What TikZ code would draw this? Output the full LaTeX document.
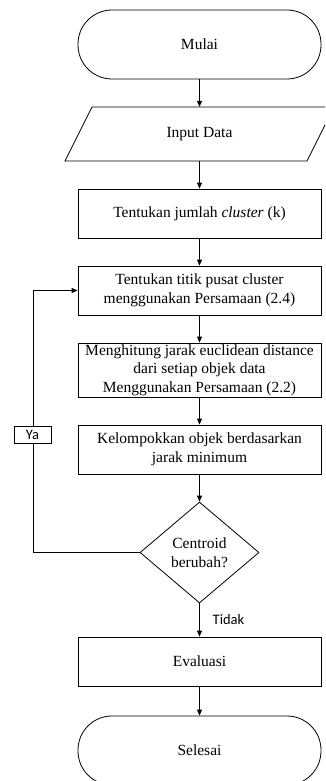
\documentclass[tikz,border=0pt]{standalone}
\usepackage{fontspec}
\setmainfont{Liberation Serif}
\newfontfamily\lblfont{Carlito}
\usetikzlibrary{shapes.geometric,arrows.meta}
\begin{document}
\begin{tikzpicture}[x=1pt,y=-1pt,
  base/.style={draw=black,line width=0.8pt,align=center,inner sep=0pt,
    font=\fontsize{15.5}{18.6}\selectfont},
  procbox/.style={base,rectangle,minimum width=243pt,minimum height=49pt},
  termbox/.style={base,rectangle,rounded corners=34pt,minimum width=243pt,minimum height=69pt},
  decbox/.style={base,diamond,aspect=1.18,minimum width=119pt,minimum height=101pt},
  flow/.style={line width=0.8pt,-{Triangle[length=6pt,width=5pt]}},
  lbl/.style={font=\lblfont\fontsize{14.5}{16}\selectfont,inner sep=0pt}
]
\useasboundingbox (0,0) rectangle (325,781);
\clip (0,0) rectangle (325,781);

\node[termbox] (mulai) at (199.5,44.5) {Mulai};
\node[align=center,inner sep=0pt,minimum width=242pt,minimum height=54pt,
  font=\fontsize{15.5}{18.6}\selectfont] (inp) at (199.5,134) {Input Data};
\draw[line width=0.8pt] (92,107) -- (334,107) -- (307,161) -- (65,161) -- cycle;
\node[procbox] (k) at (199.5,213.5) {Tentukan jumlah \textit{cluster} (k)};
\node[procbox] (pusat) at (199.5,290.5) {Tentukan titik pusat cluster\\menggunakan Persamaan (2.4)};
\node[procbox,minimum height=54pt] (jarak) at (199.5,370) {Menghitung jarak euclidean distance\\dari setiap objek data\\Menggunakan Persamaan (2.2)};
\node[procbox] (kel) at (199.5,449.5) {Kelompokkan objek berdasarkan\\jarak minimum};
\node[decbox] (cen) at (199.5,552.5) {Centroid\\berubah?};
\node[procbox] (eval) at (199.5,661.5) {Evaluasi};
\node[termbox] (selesai) at (199.5,750.5) {Selesai};

\draw[flow] (mulai) -- (inp.north);
\draw[flow] (inp.south) -- (k);
\draw[flow] (k) -- (pusat);
\draw[flow] (pusat) -- (jarak);
\draw[flow] (jarak) -- (kel);
\draw[flow] (kel) -- (cen);
\draw[flow] (cen) -- (eval);
\draw[flow] (eval) -- (selesai);

\coordinate (lb) at (33,552.5);
\coordinate (lt) at (33,290.5);
\draw[flow] (cen.west) -- (lb) -- (lt) -- (pusat.west);
\node[lbl,draw=black,line width=0.8pt,fill=white,minimum width=37pt,minimum height=17pt] (ya) at (32.5,434.5) {Ya};
\node[lbl] (tidak) at (228.5,620) {Tidak};
\end{tikzpicture}
\end{document}
